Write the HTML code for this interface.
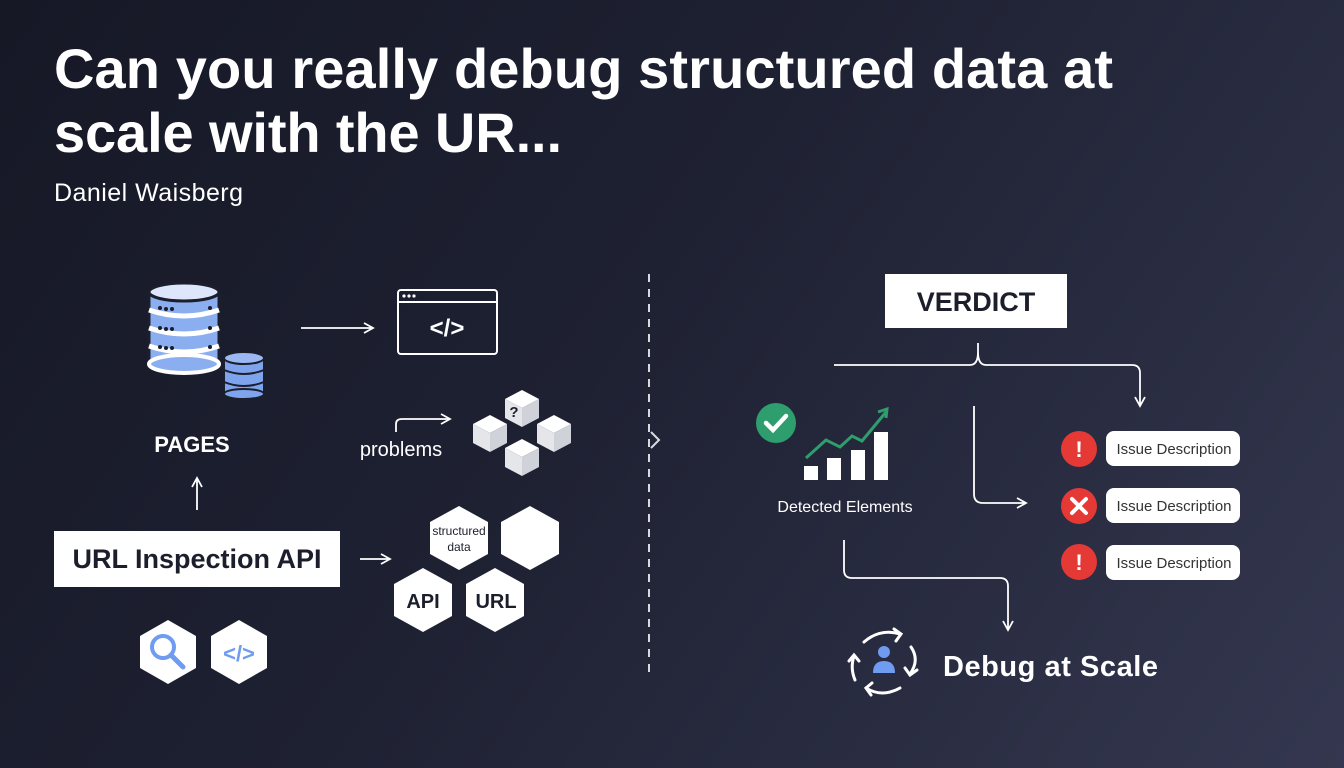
<!DOCTYPE html>
<html><head><meta charset="utf-8"><style>
html,body{margin:0;padding:0}
body{width:1344px;height:768px;overflow:hidden;background:linear-gradient(125deg,#161826 0%,#1e2132 45%,#34374f 100%);font-family:"Liberation Sans",sans-serif}
</style></head><body>
<svg width="1344" height="768" viewBox="0 0 1344 768" xmlns="http://www.w3.org/2000/svg" style="position:absolute;left:0;top:0">
<defs>
<marker id="ah" viewBox="0 0 12 12" refX="10" refY="6" markerWidth="12" markerHeight="12" markerUnits="userSpaceOnUse" orient="auto"><path d="M1,1 L10,6 L1,11" fill="none" stroke="#fff" stroke-width="1.8"/></marker>
<g id="cube"><path d="M0,-17 l17,9 l-17,9 l-17,-9z" fill="#ffffff"/><path d="M-17,-8 l17,9 v19 l-17,-9z" fill="#e4e6ea"/><path d="M17,-8 l-17,9 v19 l17,-9z" fill="#cfd2d8"/></g>
</defs>
<g font-family="Liberation Sans, sans-serif" fill="#fff" font-weight="bold" font-size="56">
<text x="54" y="88" textLength="1059" lengthAdjust="spacing">Can you really debug structured data at</text>
<text x="54" y="152" textLength="508" lengthAdjust="spacing">scale with the UR...</text>
</g>
<text x="54" y="201" font-family="Liberation Sans, sans-serif" font-size="25" fill="#fff" textLength="189" lengthAdjust="spacing">Daniel Waisberg</text>
<!-- database -->
<g stroke="#1c1e2c" stroke-width="3">
<rect x="149" y="292" width="70" height="72" fill="#8aaef0"/>
<ellipse cx="184" cy="292" rx="35" ry="9" fill="#dde6fb"/>
<path d="M149,310 Q184,322 219,310 M149,328 Q184,340 219,328 M149,346 Q184,358 219,346" fill="none" stroke="#fff" stroke-width="5"/>
<ellipse cx="184" cy="364" rx="35" ry="9" fill="#8aaef0" stroke="#fff" stroke-width="4"/>
</g>
<g fill="#1c1e2c"><circle cx="160" cy="308" r="2"/><circle cx="166" cy="309" r="2"/><circle cx="172" cy="309" r="2"/><circle cx="210" cy="308" r="2"/>
<circle cx="160" cy="328" r="2"/><circle cx="166" cy="329" r="2"/><circle cx="172" cy="329" r="2"/><circle cx="210" cy="328" r="2"/>
<circle cx="160" cy="347" r="2"/><circle cx="166" cy="348" r="2"/><circle cx="172" cy="348" r="2"/><circle cx="210" cy="347" r="2"/></g>
<g stroke="#1c1e2c" stroke-width="2">
<rect x="224" y="358" width="40" height="36" fill="#7fa4ee"/>
<ellipse cx="244" cy="358" rx="20" ry="6" fill="#9cb8f2"/>
<path d="M224,370 Q244,378 264,370 M224,382 Q244,390 264,382" fill="none"/>
<ellipse cx="244" cy="394" rx="20" ry="5" fill="#7fa4ee"/>
</g>
<text x="192" y="452" font-family="Liberation Sans, sans-serif" font-size="22" font-weight="bold" fill="#fff" text-anchor="middle">PAGES</text>
<line x1="197" y1="510" x2="197" y2="478" stroke="#fff" stroke-width="1.8" marker-end="url(#ah)"/>
<rect x="54" y="531" width="286" height="56" fill="#fff"/>
<text x="197" y="568" font-family="Liberation Sans, sans-serif" font-size="27" font-weight="bold" fill="#1c1e2c" text-anchor="middle">URL Inspection API</text>
<!-- browser -->
<line x1="301" y1="328" x2="373" y2="328" stroke="#fff" stroke-width="1.8" marker-end="url(#ah)"/>
<rect x="398" y="290" width="99" height="64" rx="3" fill="none" stroke="#fff" stroke-width="2"/>
<line x1="398" y1="302" x2="497" y2="302" stroke="#fff" stroke-width="2"/>
<circle cx="404" cy="296" r="1.6" fill="#fff"/><circle cx="409" cy="296" r="1.6" fill="#fff"/><circle cx="414" cy="296" r="1.6" fill="#fff"/>
<text x="447" y="336" font-family="Liberation Sans, sans-serif" font-size="24" font-weight="bold" fill="#fff" text-anchor="middle">&lt;/&gt;</text>
<!-- problems -->
<path d="M396,432 L396,424 Q396,419 402,419 L450,419" fill="none" stroke="#fff" stroke-width="1.8" marker-end="url(#ah)"/>
<text x="401" y="456" font-family="Liberation Sans, sans-serif" font-size="20" fill="#fff" text-anchor="middle">problems</text>
<use href="#cube" x="522" y="407"/>
<use href="#cube" x="490" y="432"/>
<use href="#cube" x="554" y="432"/>
<use href="#cube" x="522" y="456"/>
<text x="514" y="417" font-family="Liberation Sans, sans-serif" font-size="15" font-weight="bold" fill="#1c1e2c" text-anchor="middle">?</text>
<!-- hexes -->
<line x1="360" y1="559" x2="390" y2="559" stroke="#fff" stroke-width="1.8" marker-end="url(#ah)"/>
<g fill="#fff">
<path d="M459,506 l29,16 v32 l-29,16 l-29,-16 v-32z"/>
<path d="M530,506 l29,16 v32 l-29,16 l-29,-16 v-32z"/>
<path d="M423,568 l29,16 v32 l-29,16 l-29,-16 v-32z"/>
<path d="M495,568 l29,16 v32 l-29,16 l-29,-16 v-32z"/>
<path d="M168,620 l28,16 v32 l-28,16 l-28,-16 v-32z"/>
<path d="M239,620 l28,16 v32 l-28,16 l-28,-16 v-32z"/>
</g>
<g font-family="Liberation Sans, sans-serif" fill="#1c1e2c" text-anchor="middle">
<text x="459" y="535" font-size="12">structured</text>
<text x="459" y="551" font-size="12">data</text>
<text x="423" y="608" font-size="20" font-weight="bold">API</text>
<text x="496" y="608" font-size="20" font-weight="bold">URL</text>
</g>
<circle cx="163" cy="647" r="11" fill="none" stroke="#6f9cf0" stroke-width="4"/>
<line x1="171" y1="655" x2="183" y2="667" stroke="#6f9cf0" stroke-width="5" stroke-linecap="round"/>
<text x="239" y="661" font-family="Liberation Sans, sans-serif" font-size="22" font-weight="bold" fill="#6f9cf0" text-anchor="middle">&lt;/&gt;</text>
<!-- divider -->
<line x1="649" y1="274" x2="649" y2="676" stroke="#d8dae2" stroke-width="2" stroke-dasharray="8,7"/>
<path d="M651,432 L659,440 L651,448" fill="none" stroke="#d8dae2" stroke-width="2"/>
<!-- right -->
<rect x="885" y="274" width="182" height="54" fill="#fff"/>
<text x="976" y="311" font-family="Liberation Sans, sans-serif" font-size="27" font-weight="bold" fill="#1c1e2c" text-anchor="middle">VERDICT</text>
<path d="M834,365 L970,365 Q978,365 978,352 L978,343 M978,352 Q978,365 986,365 L1132,365 Q1140,365 1140,373 L1140,406" fill="none" stroke="#fff" stroke-width="1.8" marker-end="url(#ah)"/>
<path d="M974,406 L974,494 Q974,503 983,503 L1026,503" fill="none" stroke="#fff" stroke-width="1.8" marker-end="url(#ah)"/>
<path d="M844,540 L844,570 Q844,578 852,578 L1000,578 Q1008,578 1008,586 L1008,630" fill="none" stroke="#fff" stroke-width="1.8" marker-end="url(#ah)"/>
<circle cx="776" cy="423" r="20" fill="#2e9e6e"/>
<path d="M766,423 L773,430 L786,416" fill="none" stroke="#fff" stroke-width="4.5" stroke-linecap="round"/>
<g fill="#fff"><rect x="804" y="466" width="14" height="14"/><rect x="827" y="458" width="14" height="22"/><rect x="851" y="450" width="14" height="30"/><rect x="874" y="432" width="14" height="48"/></g>
<path d="M806,458 L826,440 L840,447 L852,436 L862,441 L886,412" fill="none" stroke="#2e9e6e" stroke-width="3"/>
<path d="M878,412 L887,409 L886,418" fill="none" stroke="#2e9e6e" stroke-width="3"/>
<text x="845" y="512" font-family="Liberation Sans, sans-serif" font-size="16" fill="#fff" text-anchor="middle">Detected Elements</text>
<g font-family="Liberation Sans, sans-serif">
<circle cx="1079" cy="449" r="18" fill="#e53935"/><text x="1079" y="457" font-size="22" font-weight="bold" fill="#fff" text-anchor="middle">!</text>
<circle cx="1079" cy="506" r="18" fill="#e53935"/><path d="M1072,499 L1086,513 M1086,499 L1072,513" stroke="#fff" stroke-width="4" stroke-linecap="round"/>
<circle cx="1079" cy="562" r="18" fill="#e53935"/><text x="1079" y="570" font-size="22" font-weight="bold" fill="#fff" text-anchor="middle">!</text>
<rect x="1106" y="431" width="134" height="35" rx="8" fill="#fff"/><text x="1174" y="454" font-size="15" fill="#333" text-anchor="middle">Issue Description</text>
<rect x="1106" y="488" width="134" height="35" rx="8" fill="#fff"/><text x="1174" y="511" font-size="15" fill="#333" text-anchor="middle">Issue Description</text>
<rect x="1106" y="545" width="134" height="35" rx="8" fill="#fff"/><text x="1174" y="568" font-size="15" fill="#333" text-anchor="middle">Issue Description</text>
</g>
<!-- debug -->
<g fill="none" stroke="#fff" stroke-width="3" stroke-linecap="round">
<path d="M864,642 Q880,628 900,634"/><path d="M894,629 L901,634 L896,641"/>
<path d="M911,647 Q920,660 910,674"/><path d="M905,668 L910,675 L917,670"/>
<path d="M900,688 Q882,698 866,688"/><path d="M872,683 L866,688 L871,695"/>
<path d="M855,680 Q850,668 854,656"/><path d="M849,661 L854,655 L859,661"/>
</g>
<g fill="#6f9cf0"><circle cx="884" cy="652" r="6"/><path d="M873,673 Q873,661 884,661 Q895,661 895,673z"/></g>
<text x="943" y="676" font-family="Liberation Sans, sans-serif" font-size="29" font-weight="bold" fill="#fff" textLength="215" lengthAdjust="spacing">Debug at Scale</text>
</svg>
</body></html>
